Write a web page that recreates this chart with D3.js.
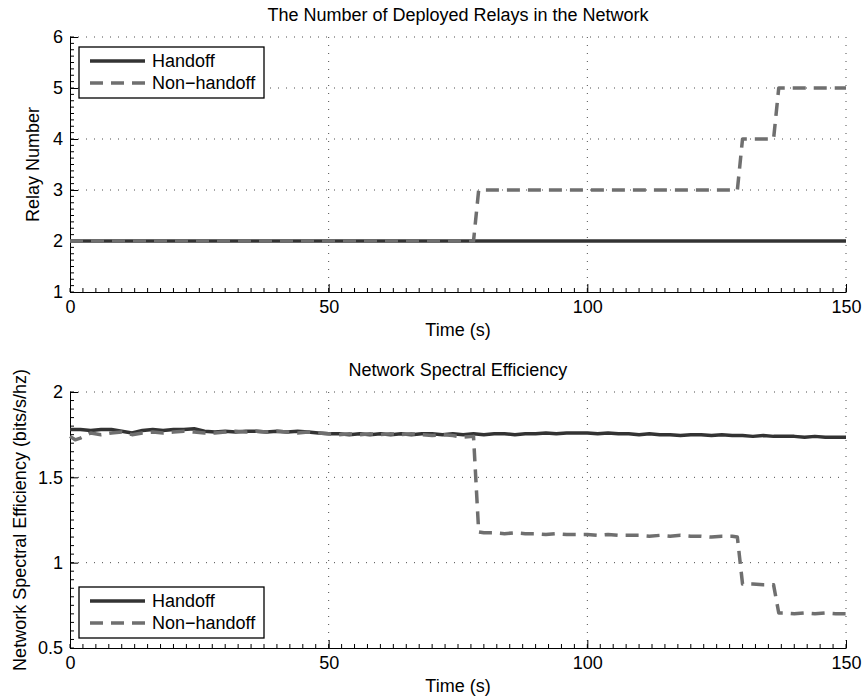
<!DOCTYPE html>
<html>
<head>
<meta charset="utf-8">
<script src="https://cdn.jsdelivr.net/npm/d3@7"></script>
<style>
  html, body { margin: 0; padding: 0; background: #fff; }
  svg { display: block; font-family: "Liberation Sans", Arial, Helvetica, sans-serif; }
  .axis text { font-size: 18px; fill: #000; }
  .axis path, .axis line { stroke: #000; }
</style>
</head>
<body>
<script>
// ---- data ----
const timeTicks = [0, 50, 100, 150];
const relayTicks = [1, 2, 3, 4, 5, 6];
const seTicks = [0.5, 1, 1.5, 2];
const seriesNames = ["Handoff", "Non\u2212handoff"];

// relays in the network
const handoffRelayT = [0, 150];
const handoffRelay = [2, 2];
const nonHandoffRelayT = [0, 78, 79, 129, 130, 136, 137, 150];
const nonHandoffRelay = [2, 2, 3, 3, 4, 4, 5, 5];

// spectral efficiency
const handoffSeT = [0, 2, 4, 6, 8, 10, 12, 14, 16, 18, 20, 22, 24, 26, 28, 30, 32, 34, 36, 38,
  40, 42, 44, 46, 48, 50, 52, 54, 56, 58, 60, 62, 64, 66, 68, 70, 72, 74, 76, 78,
  80, 82, 84, 86, 88, 90, 92, 94, 96, 98, 100, 102, 104, 106, 108, 110, 112, 114, 116, 118,
  120, 122, 124, 126, 128, 130, 132, 134, 136, 138, 140, 142, 144, 146, 148, 150];
const handoffSe = [1.78, 1.78, 1.775, 1.78, 1.78, 1.77, 1.76, 1.775, 1.78, 1.775,
  1.78, 1.78, 1.785, 1.77, 1.765, 1.77, 1.765, 1.77, 1.77, 1.765,
  1.77, 1.765, 1.77, 1.765, 1.76, 1.755, 1.755, 1.75, 1.755, 1.75,
  1.755, 1.75, 1.755, 1.75, 1.755, 1.755, 1.75, 1.755, 1.75, 1.755,
  1.75, 1.755, 1.755, 1.75, 1.755, 1.755, 1.76, 1.755, 1.76, 1.76,
  1.76, 1.755, 1.76, 1.755, 1.755, 1.75, 1.755, 1.75, 1.75, 1.745,
  1.75, 1.75, 1.745, 1.75, 1.745, 1.745, 1.74, 1.745, 1.74, 1.74,
  1.74, 1.735, 1.74, 1.735, 1.735, 1.735];

const nonHandoffSeT = [0, 1, 2, 4, 6, 8, 10, 12, 14, 16, 18, 20, 22, 24, 26, 28, 30, 32, 34, 36, 38,
  40, 42, 44, 46, 48, 50, 52, 54, 56, 58, 60, 62, 64, 66, 68, 70, 72, 74, 76, 78,
  79, 80, 82, 84, 86, 88, 90, 92, 94, 96, 98, 100, 102, 104, 106, 108, 110, 112, 114, 116, 118,
  120, 122, 124, 126, 128, 129, 130, 132, 134, 136, 137, 138, 140, 142, 144, 146, 148, 150];
const nonHandoffSe = [1.74, 1.72, 1.73, 1.76, 1.75, 1.76, 1.765, 1.75, 1.76, 1.765, 1.76, 1.765, 1.77, 1.765, 1.76, 1.76, 1.765, 1.77, 1.765, 1.77, 1.765,
  1.77, 1.765, 1.76, 1.765, 1.76, 1.755, 1.75, 1.755, 1.75, 1.755, 1.75, 1.755, 1.75, 1.755, 1.75, 1.745, 1.75, 1.745, 1.735, 1.74,
  1.18, 1.175, 1.175, 1.17, 1.175, 1.17, 1.17, 1.165, 1.17, 1.165, 1.165, 1.165, 1.16, 1.165, 1.16, 1.16, 1.16, 1.155, 1.16, 1.155, 1.16,
  1.155, 1.155, 1.15, 1.155, 1.155, 1.15, 0.875, 0.875, 0.87, 0.87, 0.705, 0.705, 0.70, 0.705, 0.70, 0.705, 0.70, 0.70];

// ---- layout ----
const width = 864;
const height = 698;
const left = 70;
const right = 846;

const svg = d3.select("body")
  .append("svg")
  .attr("width", width)
  .attr("height", height);

const styles = [
  { stroke: "#333333", dash: null },
  { stroke: "#6f6f6f", dash: "13,8" }
];

const zip = (ts, vs) => ts.map((t, i) => [t, vs[i]]);

const panels = [
  {
    top: 37, bottom: 292, domain: [1, 6], ticks: relayTicks, minor: 0.125,
    title: "The Number of Deployed Relays in the Network", titleY: 15,
    ylabel: "Relay Number", ylabelX: 33,
    series: [zip(handoffRelayT, handoffRelay), zip(nonHandoffRelayT, nonHandoffRelay)],
    legendY: 47, fmt: d3.format("d")
  },
  {
    top: 392, bottom: 648, domain: [0.5, 2], ticks: seTicks, minor: 0.05,
    title: "Network Spectral Efficiency", titleY: 370,
    ylabel: "Network Spectral Efficiency (bits/s/hz)", ylabelX: 20,
    series: [zip(handoffSeT, handoffSe), zip(nonHandoffSeT, nonHandoffSe)],
    legendY: 587, fmt: d => String(d)
  }
];

const x = d3.scaleLinear().domain([0, 150]).range([left, right]);

panels.forEach(p => {
  const y = d3.scaleLinear().domain(p.domain).range([p.bottom, p.top]);
  const g = svg.append("g");

  // dotted grid
  g.selectAll(".gy")
    .data(p.ticks.filter(d => d !== p.domain[0]))
    .enter()
    .append("line")
    .attr("x1", left).attr("x2", right)
    .attr("y1", d => y(d)).attr("y2", d => y(d))
    .attr("stroke", "#000").attr("stroke-opacity", 0.7)
    .attr("stroke-dasharray", "1,7");
  g.selectAll(".gx")
    .data(timeTicks.filter(d => d !== 0))
    .enter()
    .append("line")
    .attr("y1", p.top).attr("y2", p.bottom)
    .attr("x1", d => x(d)).attr("x2", d => x(d))
    .attr("stroke", "#000").attr("stroke-opacity", 0.7)
    .attr("stroke-dasharray", "1,7");

  // minor ticks
  const yMinor = d3.range(p.domain[0], p.domain[1] + 1e-9, p.minor);
  g.selectAll(".my")
    .data(yMinor)
    .enter()
    .append("line")
    .attr("x1", left).attr("x2", left + 4)
    .attr("y1", d => y(d)).attr("y2", d => y(d))
    .attr("stroke", "#000");
  g.selectAll(".mx")
    .data(d3.range(0, 150.001, 2.5))
    .enter()
    .append("line")
    .attr("y1", p.bottom).attr("y2", p.bottom - 4)
    .attr("x1", d => x(d)).attr("x2", d => x(d))
    .attr("stroke", "#000");

  // axes
  g.append("g")
    .attr("class", "axis")
    .attr("transform", `translate(${left},0)`)
    .call(d3.axisLeft(y).tickValues(p.ticks).tickFormat(p.fmt)
      .tickSize(-8).tickSizeOuter(0).tickPadding(7));
  g.append("g")
    .attr("class", "axis")
    .attr("transform", `translate(0,${p.bottom})`)
    .call(d3.axisBottom(x).tickValues(timeTicks)
      .tickSize(-8).tickSizeOuter(0).tickPadding(8));
  g.selectAll(".axis text").attr("font-family", null);
  g.selectAll(".axis").attr("font-size", null).attr("font-family", null);

  // lines
  const line = d3.line().x(d => x(d[0])).y(d => y(d[1]));
  p.series.forEach((s, i) => {
    g.append("path")
      .datum(s)
      .attr("d", line)
      .attr("fill", "none")
      .attr("stroke", styles[i].stroke)
      .attr("stroke-width", 3.5)
      .attr("stroke-linejoin", "round")
      .attr("stroke-dasharray", styles[i].dash);
  });

  // title and labels
  svg.append("text")
    .attr("x", (left + right) / 2).attr("y", p.titleY)
    .attr("text-anchor", "middle").attr("dominant-baseline", "central")
    .style("font-size", "18px")
    .text(p.title);
  svg.append("text")
    .attr("x", (left + right) / 2).attr("y", p.bottom + 38)
    .attr("text-anchor", "middle").attr("dominant-baseline", "central")
    .style("font-size", "18px")
    .text("Time (s)");
  svg.append("text")
    .attr("transform", `translate(${p.ylabelX},${(p.top + p.bottom) / 2}) rotate(-90)`)
    .attr("text-anchor", "middle").attr("dominant-baseline", "central")
    .style("font-size", "18px")
    .text(p.ylabel);

  // legend
  const lg = svg.append("g").attr("transform", `translate(79,${p.legendY})`);
  lg.append("rect")
    .attr("width", 185).attr("height", 51)
    .attr("fill", "#fff").attr("stroke", "#000").attr("stroke-width", 1.3);
  seriesNames.forEach((name, i) => {
    const cy = 14 + i * 22;
    lg.append("line")
      .attr("x1", 11).attr("x2", 66)
      .attr("y1", cy).attr("y2", cy)
      .attr("stroke", styles[i].stroke)
      .attr("stroke-width", 3.5)
      .attr("stroke-dasharray", styles[i].dash);
    lg.append("text")
      .attr("x", 73).attr("y", cy)
      .attr("dominant-baseline", "central")
      .style("font-size", "18px")
      .text(name);
  });
});
</script>
</body>
</html>
